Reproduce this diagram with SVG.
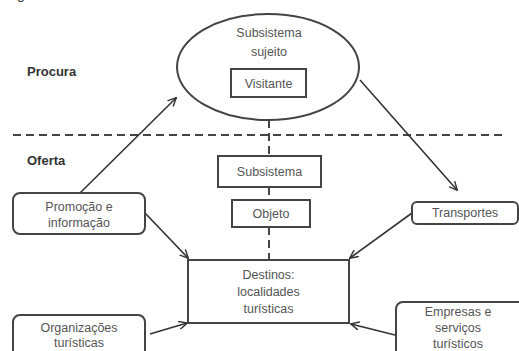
<svg xmlns="http://www.w3.org/2000/svg" width="519" height="351" viewBox="0 0 519 351">
<defs>
<marker id="arr" viewBox="0 0 10 10" refX="9" refY="5" markerWidth="9" markerHeight="9" markerUnits="userSpaceOnUse" orient="auto">
<path d="M0,0.5 L9.5,5 L0,9.5" fill="none" stroke="#333" stroke-width="1.6"/>
</marker>
<style>
.box{fill:#fff;stroke:#444;stroke-width:2}
.lbl{font-family:"Liberation Sans",Arial,sans-serif;font-size:12.5px;fill:#555;text-anchor:middle}
.side{font-family:"Liberation Sans",Arial,sans-serif;font-size:13px;font-weight:bold;fill:#333}
.con{stroke:#333;stroke-width:1.6;fill:none}
.dash{stroke:#444;stroke-width:2;stroke-dasharray:8,5;fill:none}
</style>
</defs>
<rect width="519" height="351" fill="#fff"/>
<text x="17" y="-1" class="side" style="font-weight:normal;font-size:14px">g</text>
<text x="27" y="76" class="side">Procura</text>
<text x="27" y="165" class="side">Oferta</text>
<g id="connectors">
<line class="dash" x1="13" y1="135" x2="507" y2="135"/>
<line class="dash" x1="269" y1="120" x2="269" y2="156"/>
<line class="dash" x1="269" y1="187" x2="269" y2="200"/>
<line class="dash" x1="269" y1="227" x2="269" y2="260"/>
<line class="con" x1="80" y1="193" x2="176" y2="98" marker-end="url(#arr)"/>
<line class="con" x1="360" y1="80" x2="457" y2="190" marker-end="url(#arr)"/>
<line class="con" x1="145" y1="213" x2="188" y2="258" marker-end="url(#arr)"/>
<line class="con" x1="412" y1="213" x2="350" y2="258" marker-end="url(#arr)"/>
<line class="con" x1="150" y1="334" x2="187" y2="323" marker-end="url(#arr)"/>
<line class="con" x1="395" y1="335" x2="351" y2="324" marker-end="url(#arr)"/>
</g>
<g id="sujeito">
<ellipse class="box" cx="268" cy="67" rx="91" ry="53"/>
<text class="lbl" x="269" y="37">Subsistema</text>
<text class="lbl" x="269" y="56">sujeito</text>
</g>
<g id="visitante">
<rect class="box" x="231" y="69" width="75" height="28"/>
<text class="lbl" x="268.5" y="88">Visitante</text>
</g>
<g id="subsistema">
<rect class="box" x="218" y="156" width="103" height="31"/>
<text class="lbl" x="269.5" y="176">Subsistema</text>
</g>
<g id="objeto">
<rect class="box" x="232" y="200" width="78" height="27"/>
<text class="lbl" x="271" y="218">Objeto</text>
</g>
<g id="destinos">
<rect class="box" x="188" y="260" width="161" height="63"/>
<text class="lbl" x="268.5" y="279">Destinos:</text>
<text class="lbl" x="268.5" y="296">localidades</text>
<text class="lbl" x="268.5" y="313">turísticas</text>
</g>
<g id="promocao">
<rect class="box" x="13" y="193" width="132" height="41" rx="7"/>
<text class="lbl" x="79" y="211">Promoção e</text>
<text class="lbl" x="79" y="227">informação</text>
</g>
<g id="transportes">
<rect class="box" x="412" y="202" width="106" height="22" rx="5"/>
<text class="lbl" x="465" y="217">Transportes</text>
</g>
<g id="organizacoes">
<rect class="box" x="13" y="315" width="132" height="50" rx="7"/>
<text class="lbl" x="79" y="332">Organizações</text>
<text class="lbl" x="79" y="347">turísticas</text>
</g>
<g id="empresas">
<rect class="box" x="396" y="302" width="130" height="60" rx="7"/>
<text class="lbl" x="458" y="316">Empresas e</text>
<text class="lbl" x="458" y="332">serviços</text>
<text class="lbl" x="458" y="348">turísticos</text>
</g>
</svg>
